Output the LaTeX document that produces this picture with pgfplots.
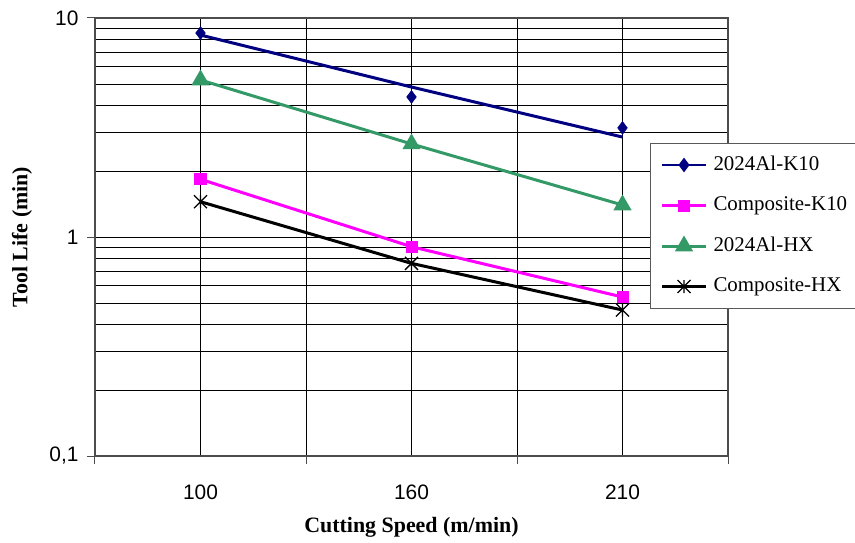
\documentclass[border=0pt]{standalone}
\usepackage{fontspec}
\setmainfont{Liberation Serif}
\newfontfamily\arialfont{Liberation Sans}
\usepackage{pgfplots}
\pgfplotsset{compat=1.18}
\definecolor{navyk}{RGB}{0,0,128}
\definecolor{magk}{RGB}{255,0,255}
\definecolor{greenhx}{RGB}{51,153,102}
% Excel-style star: X with a vertical stroke
\pgfdeclareplotmark{xlstar}{%
  \pgfpathmoveto{\pgfqpoint{-\pgfplotmarksize}{-\pgfplotmarksize}}%
  \pgfpathlineto{\pgfqpoint{\pgfplotmarksize}{\pgfplotmarksize}}%
  \pgfpathmoveto{\pgfqpoint{-\pgfplotmarksize}{\pgfplotmarksize}}%
  \pgfpathlineto{\pgfqpoint{\pgfplotmarksize}{-\pgfplotmarksize}}%
  \pgfpathmoveto{\pgfqpoint{0pt}{-\pgfplotmarksize}}%
  \pgfpathlineto{\pgfqpoint{0pt}{\pgfplotmarksize}}%
  \pgfusepathqstroke}

\begin{document}
\begin{tikzpicture}
\useasboundingbox (-95bp,-87bp) rectangle (760bp,456bp);
\begin{axis}[
  at={(0,0)}, anchor=south west, scale only axis,
  width=633bp, height=438bp,
  xmin=0, xmax=3,
  ymode=log, ymin=0.1, ymax=10,
  xtick={0.5,1.5,2.5}, xticklabels={100,160,210},
  minor xtick={0,1,2,3},
  ytick={0.1,1,10}, yticklabels={{0,1},1,10},
  minor ytick={0.2,0.3,0.4,0.5,0.6,0.7,0.8,0.9,2,3,4,5,6,7,8,9},
  xtick pos=bottom, ytick pos=left, tick align=outside,
  major tick length=8bp, minor tick length=8bp,
  every major x tick/.append style={draw=none},
  every minor y tick/.append style={draw=none},
  tick style={gray!60!black, line width=1bp},
  xmajorgrids, xminorgrids, ymajorgrids, yminorgrids,
  major grid style={black, line width=0.75bp},
  minor grid style={black, line width=0.75bp},
  axis line style={gray!60!black, line width=1.2bp},
  tick label style={font=\arialfont\fontsize{21}{25}\selectfont},
  xticklabel style={yshift=-17bp},
  yticklabel style={xshift=-5bp},
  xlabel={Cutting Speed (m/min)},
  ylabel={Tool Life (min)},
  every axis x label/.style={at={(axis description cs:0.5,0)}, anchor=center, yshift=-71bp,
    font=\bfseries\fontsize{22}{26}\selectfont},
  every axis y label/.style={at={(axis description cs:0,0.5)}, xshift=-73bp, rotate=90, anchor=center,
    font=\bfseries\fontsize{22}{26}\selectfont},
  legend image code/.code={\draw[mark repeat=2,mark phase=2] plot coordinates {(0bp,0bp) (22bp,0bp) (44bp,0bp)};},
  legend cell align=left,
  legend style={at={(0.8768,0.7146)}, anchor=north west,
    draw=gray!70!black, line width=1bp, fill=white,
    inner xsep=10bp, inner ysep=11.5bp, row sep=20.5bp,
    font=\fontsize{21}{25}\selectfont,
    nodes={inner sep=0pt, text height=15bp, text depth=5bp},
    /tikz/every odd column/.append style={column sep=6bp}},
]
% 2024Al-K10 measured points (markers only)
\addplot[only marks, navyk, mark=diamond*, mark size=6.5bp,
  legend image code/.code={\draw[navyk, line width=1.5bp] (0bp,0bp) -- (44bp,0bp);
    \draw[mark repeat=2,mark phase=2] plot coordinates {(0bp,0bp) (22bp,0bp) (44bp,0bp)};}]
  coordinates {(0.5,8.54)(1.5,4.36)(2.5,3.15)};
\addlegendentry{2024Al-K10}
\addplot[magk, line width=3bp, mark=square*, mark size=4.5bp]
  coordinates {(0.5,1.835)(1.5,0.903)(2.5,0.532)};
\addlegendentry{Composite-K10}
\addplot[greenhx, line width=3bp, mark=triangle*, mark size=7.5bp]
  coordinates {(0.5,5.21)(1.5,2.66)(2.5,1.40)};
\addlegendentry{2024Al-HX}
\addplot[black, line width=3bp, mark=xlstar, mark size=6.5bp, mark options={line width=1.3bp}]
  coordinates {(0.5,1.449)(1.5,0.758)(2.5,0.464)};
\addlegendentry{Composite-HX}
% trend line of 2024Al-K10
\addplot[navyk, line width=3bp, forget plot]
  coordinates {(0.5,8.36)(1.5,4.84)(2.5,2.86)};
\end{axis}
\end{tikzpicture}
\end{document}
